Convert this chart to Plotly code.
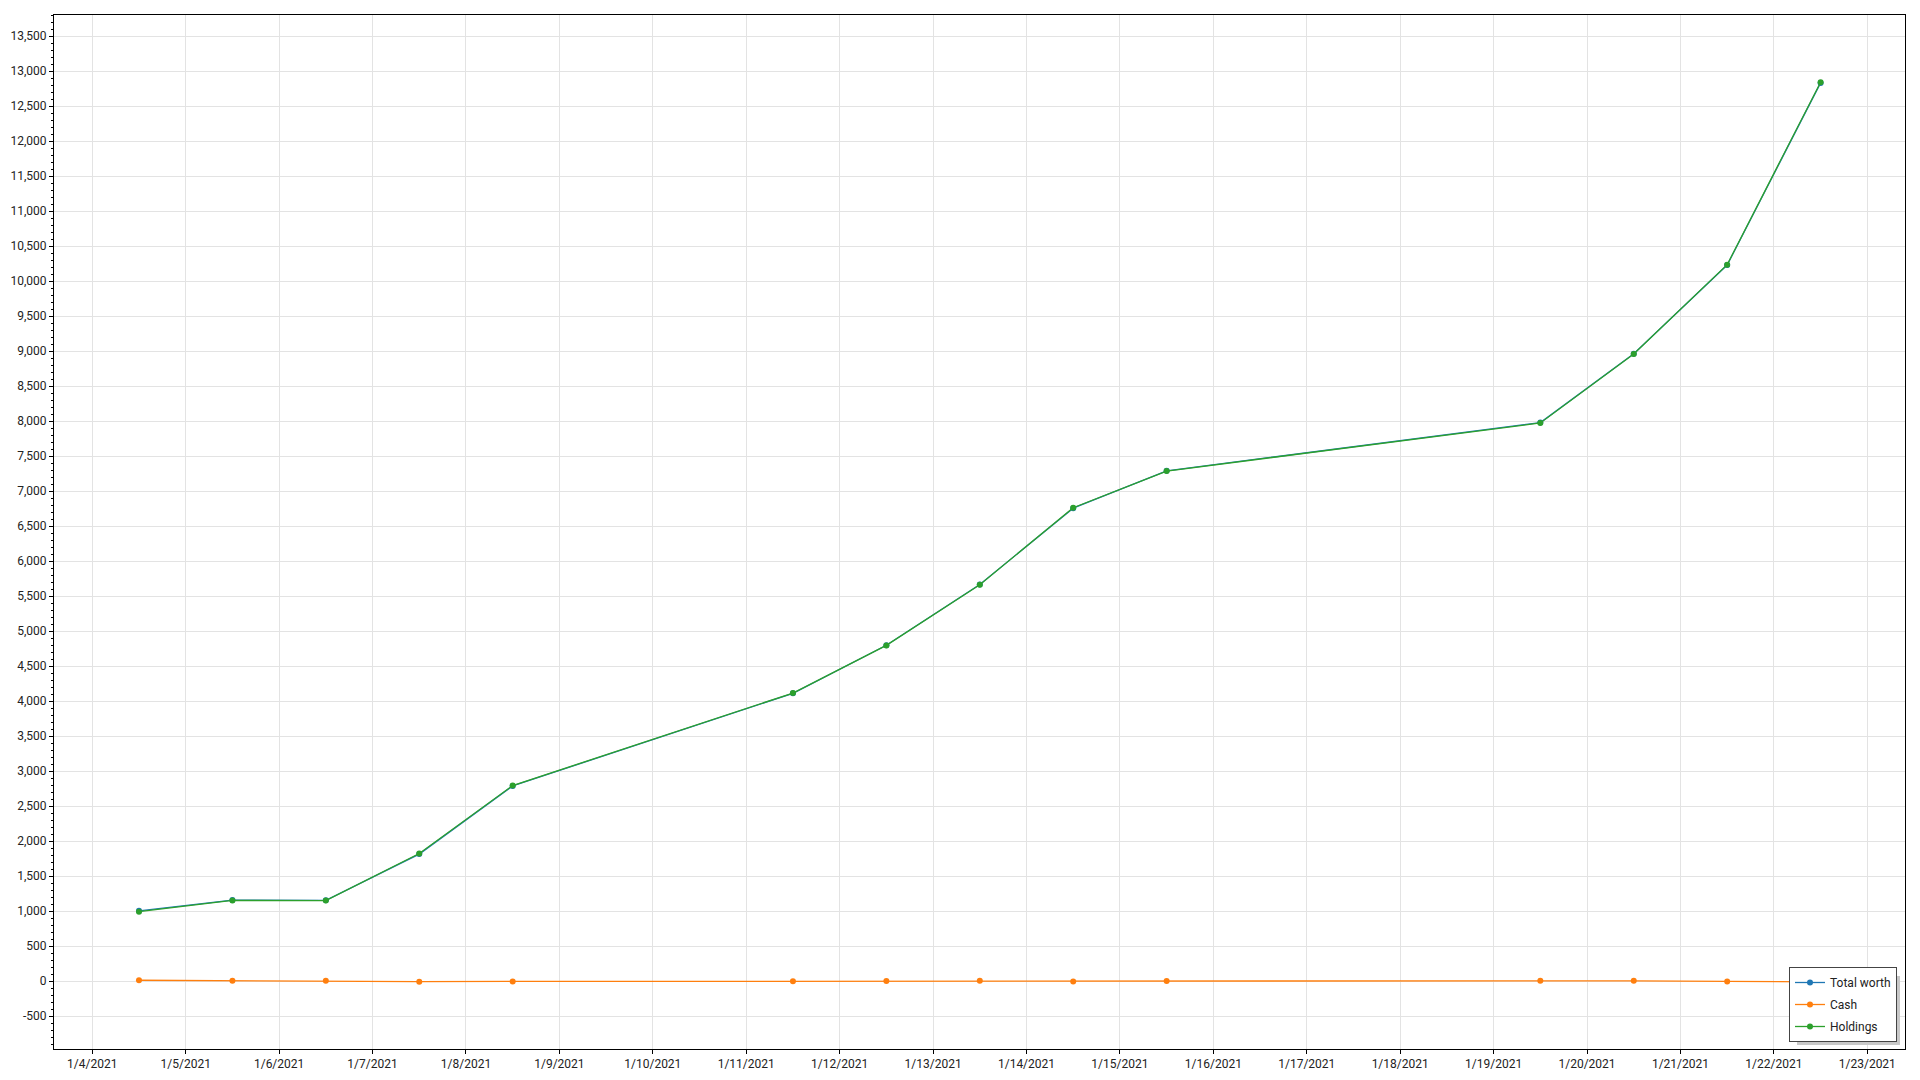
import plotly.graph_objects as go

dates = ["2021-01-04 12:00", "2021-01-05 12:00", "2021-01-06 12:00", "2021-01-07 12:00",
         "2021-01-08 12:00", "2021-01-11 12:00", "2021-01-12 12:00", "2021-01-13 12:00",
         "2021-01-14 12:00", "2021-01-15 12:00", "2021-01-19 12:00", "2021-01-20 12:00",
         "2021-01-21 12:00", "2021-01-22 12:00"]
holdings = [992, 1152, 1150, 1822, 2793, 4114, 4795, 5661, 6762, 7286, 7972, 8958, 10233, 12840]
cash = [12, 5, 4, -8, -5, -3, 2, 4, -6, 3, 6, 4, -5, -10]
total_worth = [h + c for h, c in zip(holdings, cash)]

y_tickvals = list(range(-500, 14000, 500))
y_ticktext = [f"{v:,}" for v in y_tickvals]

colors = {"Total worth": "#1f77b4", "Cash": "#ff7f0e", "Holdings": "#2ca02c"}
series = [("Total worth", total_worth), ("Cash", cash), ("Holdings", holdings)]

fig = go.Figure()
for name, vals in series:
    fig.add_trace(go.Scatter(
        x=dates, y=vals, name=name, mode="lines+markers", legendgroup=name,
        line=dict(color=colors[name], width=1.3),
        marker=dict(color=colors[name], size=6, symbol="circle"),
    ))

font = dict(family="Segoe UI, Roboto, sans-serif", size=12, color="#222222")

W, H = 1920, 1080
ML, MR, MT, MB = 54, 15, 15, 31
PW, PH = W - ML - MR, H - MT - MB

def px_x(p):
    return (p - ML) / PW

def px_y(p):
    return (H - MB - p) / PH

# legend drop shadow
fig.add_shape(type="rect", xref="paper", yref="paper",
              x0=px_x(1797), x1=px_x(1900), y0=px_y(1045), y1=px_y(976),
              fillcolor="#c8c8c8", line=dict(width=0), layer="above")

fig.update_layout(
    width=W, height=H,
    margin=dict(l=ML, r=MR, t=MT, b=MB, autoexpand=False),
    paper_bgcolor="white", plot_bgcolor="white",
    font=font,
    showlegend=True,
    legend=dict(
        x=px_x(1897), y=px_y(1042), xanchor="right", yanchor="bottom",
        bgcolor="white", bordercolor="#444444", borderwidth=1,
        font=dict(family="Segoe UI, Roboto, sans-serif", size=12, color="#222222"),
        itemwidth=30, tracegroupgap=3,
    ),
    xaxis=dict(
        type="date", automargin=False,
        range=["2021-01-03 14:10", "2021-01-23 09:41"],
        dtick=86400000, tick0="2021-01-04",
        tickformat="%-m/%-d/%Y",
        showgrid=True, gridcolor="#e3e3e3", gridwidth=1,
        showline=True, linecolor="black", linewidth=1, mirror=True,
        ticks="outside", ticklen=4, tickcolor="black",
        zeroline=False,
    ),
    yaxis=dict(
        automargin=False,
        range=[-970, 13800],
        tickmode="array", tickvals=y_tickvals, ticktext=y_ticktext,
        showgrid=True, gridcolor="#e3e3e3", gridwidth=1,
        showline=True, linecolor="black", linewidth=1, mirror=True,
        ticks="outside", ticklen=4, tickcolor="black",
        minor=dict(dtick=100, tick0=0, ticks="outside", ticklen=2, tickcolor="black", showgrid=False),
        zeroline=False,
    ),
)

fig.write_html("out.html", config={"displayModeBar": False},
               post_script="document.body.style.margin='0';")
